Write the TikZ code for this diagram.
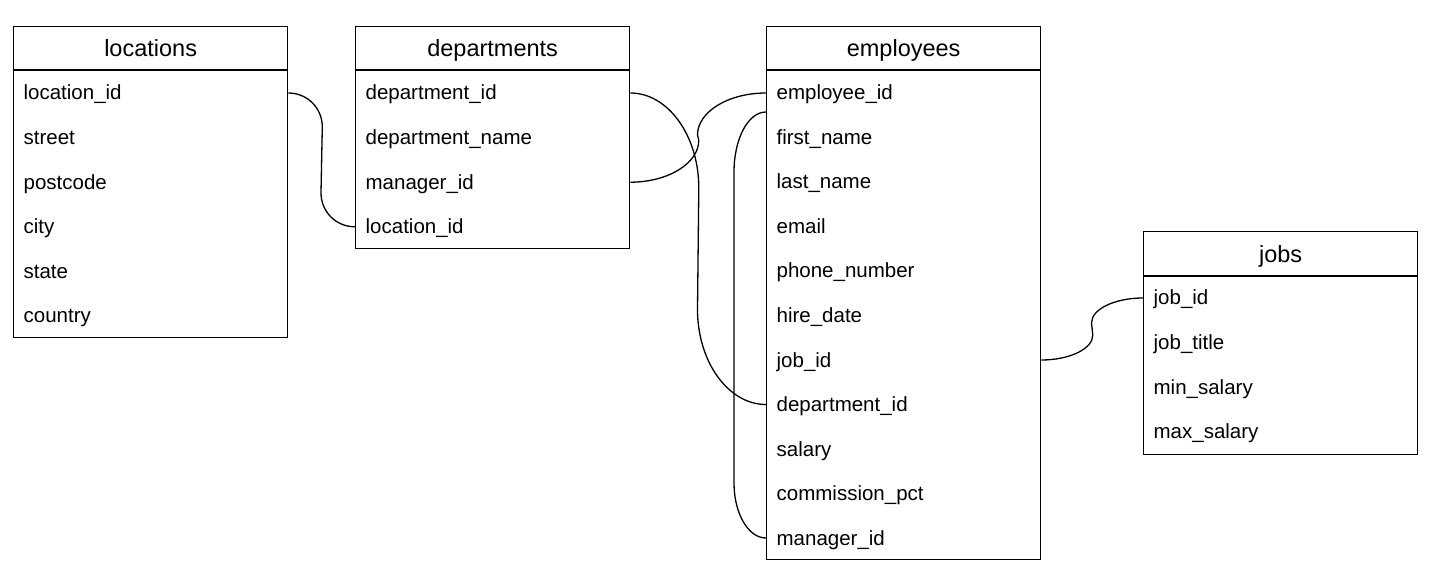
\documentclass[tikz,border=0pt]{standalone}
\usepackage{fontspec}
\setmainfont{Liberation Sans}
\usetikzlibrary{calc}
\begin{document}
\begin{tikzpicture}[x=1pt,y=-1pt,line width=1.3pt,
  tablebox/.style={draw,inner sep=0pt,minimum width=274pt,anchor=north west},
  titletext/.style={anchor=base,inner sep=0pt,font=\fontsize{23.5}{28}\selectfont},
  field/.style={anchor=west,inner xsep=10pt,inner ysep=0pt,text width=254pt,align=left,
    text height=19pt,text depth=5pt,font=\fontsize{20.5}{24}\selectfont},
  link/.style={draw,line width=1.3pt}]
\useasboundingbox[fill=white] (0,0) rectangle (1449,580);

% locations
\node[tablebox,minimum height=311pt] (loc) at (13,26) {};
\draw ($(loc.north west)+(0,44)$) -- ($(loc.north east)+(0,44)$);
\node[titletext] (loct) at ($(loc.north)+(0,31)$) {locations};
\node[field] (l1) at (13,93) {location\_id};
\node[field] (l2) at (13,137.6) {street};
\node[field] (l3) at (13,182.2) {postcode};
\node[field] (l4) at (13,226.8) {city};
\node[field] (l5) at (13,271.4) {state};
\node[field] (l6) at (13,316) {country};

% departments
\node[tablebox,minimum height=222pt] (dep) at (355,26) {};
\draw ($(dep.north west)+(0,44)$) -- ($(dep.north east)+(0,44)$);
\node[titletext] (dept) at ($(dep.north)+(0,31)$) {departments};
\node[field] (d1) at (355,93) {department\_id};
\node[field] (d2) at (355,137.6) {department\_name};
\node[field] (d3) at (355,182.2) {manager\_id};
\node[field] (d4) at (355,226.8) {location\_id};

% employees
\node[tablebox,minimum height=533pt] (emp) at (766,26) {};
\draw ($(emp.north west)+(0,44)$) -- ($(emp.north east)+(0,44)$);
\node[titletext] (empt) at ($(emp.north)+(0,31)$) {employees};
\node[field] (e1) at (766,93) {employee\_id};
\node[field] (e2) at (766,137.5) {first\_name};
\node[field] (e3) at (766,182) {last\_name};
\node[field] (e4) at (766,226.5) {email};
\node[field] (e5) at (766,271) {phone\_number};
\node[field] (e6) at (766,315.5) {hire\_date};
\node[field] (e7) at (766,360) {job\_id};
\node[field] (e8) at (766,404.5) {department\_id};
\node[field] (e9) at (766,449) {salary};
\node[field] (e10) at (766,493.5) {commission\_pct};
\node[field] (e11) at (766,538) {manager\_id};

% jobs
\node[tablebox,minimum height=223pt] (job) at (1143,231) {};
\draw ($(job.north west)+(0,45)$) -- ($(job.north east)+(0,45)$);
\node[titletext] (jobt) at ($(job.north)+(0,31)$) {jobs};
\node[field] (j1) at (1143,298) {job\_id};
\node[field] (j2) at (1143,342.6) {job\_title};
\node[field] (j3) at (1143,387.2) {min\_salary};
\node[field] (j4) at (1143,431.8) {max\_salary};

% connectors
\draw[link] (l1.east) .. controls +(19,0) and +(0,-19) .. ++(34,34)
  -- ($(d4.west)+(-34,-34)$) .. controls +(0,19) and +(-19,0) .. (d4.west);
\draw[link] (d1.east) .. controls +(38,0) and +(0,-52) .. ++(68.5,95)
  -- ($(e8.west)+(-68.5,-95)$) .. controls +(0,52) and +(-38,0) .. (e8.west);
\draw[link] (d3.east) .. controls +(38,0) and +(0,23) .. ++(68.5,-42)
  -- ($(e1.west)+(-68.5,42)$) .. controls +(0,-23) and +(-38,0) .. (e1.west);
\draw[link] ($(e1.west)+(0,19)$) .. controls +(-18,0) and +(0,-33) .. ++(-32,60)
  -- ($(e11.west)+(-32,-55)$) .. controls +(0,30) and +(-18,0) .. (e11.west);
\draw[link] (e7.east) .. controls +(28,0) and +(0,14) .. ++(51.5,-25)
  -- ($(j1.west)+(-51.5,25)$) .. controls +(0,-14) and +(-28,0) .. (j1.west);
\end{tikzpicture}
\end{document}
